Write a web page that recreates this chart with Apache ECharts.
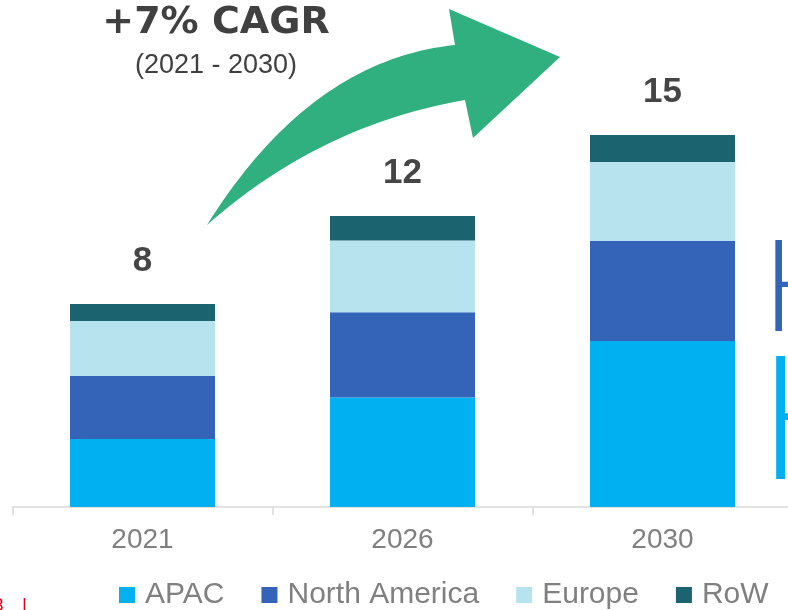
<!DOCTYPE html>
<html>
<head>
<meta charset="utf-8">
<script src="https://cdn.jsdelivr.net/npm/echarts@6/dist/echarts.min.js"></script>
<style>
  html, body { margin: 0; padding: 0; background: #ffffff; }
  #chart { width: 788px; height: 610px; }
</style>
</head>
<body>
<div id="chart"></div>
<script>
// ---- data ----
const categories = ['2021', '2026', '2030'];
const seriesNames = ['APAC', 'North America', 'Europe', 'RoW'];
const apac = [2.72, 4.38, 6.64];
const northAmerica = [2.52, 3.41, 4.01];
const europe = [2.20, 2.87, 3.15];
const row = [0.68, 0.98, 1.08];
const totalLabels = ['8', '12', '15'];
const cagrTitle = '+7% CAGR';
const cagrPeriod = '(2021 - 2030)';

// ---- styling ----
const colors = ['#00B0F0', '#3464B8', '#B7E3EF', '#1C6370'];
const font = 'Liberation Sans, Arial, sans-serif';

function quad(p0, c, p1, n) {
  const pts = [];
  for (let i = 0; i <= n; i++) {
    const t = i / n, u = 1 - t;
    pts.push([u*u*p0[0] + 2*u*t*c[0] + t*t*p1[0], u*u*p0[1] + 2*u*t*c[1] + t*t*p1[1]]);
  }
  return pts;
}
const arrowPts = quad([207,225],[310,60],[455,45],40)
  .concat([[449,9],[560,57],[473,138]])
  .concat(quad([465,100],[320,125],[207,225],40));

const valueSets = [apac, northAmerica, europe, row];
const series = seriesNames.map((name, i) => {
  const s = {
    name: name,
    type: 'bar',
    stack: 'total',
    barWidth: 145,
    data: valueSets[i],
    itemStyle: { color: colors[i] },
    emphasis: { disabled: true }
  };
  if (i === seriesNames.length - 1) {
    s.label = {
      show: true,
      position: 'top',
      distance: 25,
      formatter: p => totalLabels[p.dataIndex],
      fontFamily: font,
      fontWeight: 'bold',
      fontSize: 35,
      color: '#454545'
    };
  }
  return s;
});

const chart = echarts.init(document.getElementById('chart'), null, { renderer: 'canvas' });
chart.setOption({
  animation: false,
  color: colors,
  grid: { left: 12.5, width: 780, top: 57, bottom: 103, containLabel: false, outerBoundsMode: 'none' },
  xAxis: {
    type: 'category',
    data: categories,
    axisLine: { show: true, lineStyle: { color: '#D9D9D9', width: 1.5 } },
    axisTick: { show: true, length: 8, alignWithLabel: false, lineStyle: { color: '#D9D9D9', width: 1.5 } },
    axisLabel: { color: '#808080', fontFamily: font, fontSize: 28, margin: 19 }
  },
  yAxis: {
    type: 'value', min: 0, max: 18, show: false,
    splitLine: { show: false }
  },
  legend: {
    data: seriesNames,
    left: 119,
    top: 580,
    padding: 0,
    itemGap: 37,
    itemWidth: 16,
    itemHeight: 16,
    icon: 'rect',
    textStyle: { color: '#808080', fontFamily: font, fontSize: 30, padding: [0, 0, 0, 5] }
  },
  graphic: [
    {
      type: 'polygon',
      shape: { points: arrowPts },
      style: { fill: '#30B07F' },
      z: 1
    },
    {
      type: 'text',
      x: 216, y: 23,
      style: {
        text: cagrTitle, fill: '#404040',
        font: 'bold 38px "DejaVu Sans", sans-serif',
        textAlign: 'center', textVerticalAlign: 'middle'
      }
    },
    {
      type: 'text',
      x: 216, y: 66,
      style: {
        text: cagrPeriod, fill: '#404040',
        font: '27px "Liberation Sans", Arial, sans-serif',
        textAlign: 'center', textVerticalAlign: 'middle'
      }
    },
    {
      type: 'text', x: -7, y: 596,
      style: { text: '3', fill: '#E2001A', font: '19px "Liberation Sans", Arial, sans-serif' }
    },
    {
      type: 'text', x: 22, y: 596,
      style: { text: '|', fill: '#E2001A', font: '19px "Liberation Sans", Arial, sans-serif' }
    },
    {
      type: 'text', x: 762, y: 226,
      style: { text: 'K', fill: '#3464B8', font: '300 128px Lato, sans-serif' }
    },
    {
      type: 'text', x: 758, y: 336,
      style: { text: 'H', fill: '#00B0F0', font: '300 174px Lato, sans-serif' }
    }
  ],
  series: series
});
</script>
</body>
</html>
